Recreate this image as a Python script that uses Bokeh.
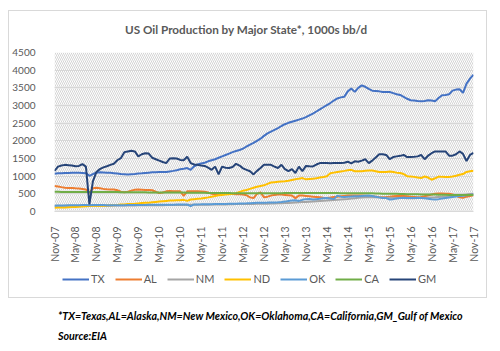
from math import pi
from bokeh.plotting import figure
from bokeh.layouts import column
from bokeh.models import Range1d, FixedTicker, BoxAnnotation, Div
from bokeh.embed import file_html
from bokeh.resources import INLINE

# ---------------- data (monthly, Nov-07 .. Nov-17, 1000s bb/d) ----------------
tick_labels = ["Nov-07", "May-08", "Nov-08", "May-09", "Nov-09", "May-10", "Nov-10",
               "May-11", "Nov-11", "May-12", "Nov-12", "May-13", "Nov-13", "May-14",
               "Nov-14", "May-15", "Nov-15", "May-16", "Nov-16", "May-17", "Nov-17"]

TX = [1070, 1080, 1085, 1090, 1090, 1095, 1100, 1095, 1090, 1085, 1010, 1060,
      1100, 1110, 1105, 1100, 1095, 1085, 1075, 1060, 1055, 1050, 1055, 1060,
      1075, 1080, 1090, 1100, 1110, 1110, 1115, 1115, 1120, 1135, 1150, 1170,
      1195, 1210, 1230, 1180, 1280, 1330, 1360, 1380, 1420, 1450, 1480, 1520,
      1560, 1600, 1640, 1680, 1710, 1740, 1780, 1840, 1890, 1940, 2000, 2060,
      2140, 2210, 2260, 2310, 2360, 2420, 2470, 2510, 2540, 2570, 2600, 2630,
      2670, 2720, 2770, 2830, 2890, 2950, 3010, 3070, 3140, 3200, 3230, 3250,
      3400, 3480, 3385, 3500, 3570, 3530, 3470, 3420, 3410, 3400, 3385, 3380,
      3380, 3350, 3320, 3300, 3245, 3190, 3150, 3140, 3125, 3120, 3130, 3150,
      3140, 3120, 3210, 3290, 3300, 3320, 3420, 3450, 3460, 3360, 3620, 3760,
      3870]

AL = [720, 710, 690, 675, 665, 665, 655, 650, 640, 625, 530, 660,
      670, 660, 640, 630, 625, 620, 600, 560, 545, 560, 590, 615,
      620, 615, 610, 605, 600, 560, 520, 540, 570, 580, 575, 570,
      570, 440, 570, 575, 570, 570, 565, 560, 540, 500, 490, 490,
      500, 510, 500, 495, 490, 485, 480, 460, 400, 380, 500, 540,
      400, 420, 450, 470, 480, 480, 470, 460, 450, 380, 450, 450,
      440, 430, 420, 410, 400, 390, 385, 395, 410, 420, 430, 440,
      450, 450, 455, 450, 450, 445, 440, 430, 420, 410, 405, 410,
      420, 430, 440, 445, 440, 430, 420, 410, 400, 410, 430, 450,
      480, 500, 510, 510, 505, 500, 480, 450, 400, 390, 420, 440,
      460]

NM = [160, 160, 158, 160, 162, 162, 163, 165, 165, 165, 160, 165,
      165, 166, 166, 165, 166, 168, 168, 170, 170, 172, 172, 173,
      174, 175, 175, 176, 178, 178, 180, 180, 182, 183, 184, 185,
      186, 187, 185, 188, 190, 190, 192, 193, 194, 195, 197, 198,
      200, 200, 205, 205, 210, 210, 210, 215, 215, 215, 220, 220,
      220, 222, 225, 228, 232, 236, 240, 244, 248, 255, 262, 268,
      272, 278, 284, 290, 296, 302, 308, 316, 324, 332, 340, 348,
      356, 366, 376, 386, 396, 406, 410, 405, 400, 395, 390, 390,
      390, 385, 385, 380, 380, 375, 375, 375, 380, 380, 385, 390,
      395, 400, 410, 415, 425, 430, 440, 450, 455, 470, 480, 495,
      500]

ND = [105, 110, 110, 115, 120, 125, 130, 135, 140, 150, 155, 160,
      160, 165, 165, 170, 175, 180, 185, 195, 200, 210, 215, 220,
      230, 240, 245, 250, 260, 270, 280, 290, 300, 310, 310, 315,
      320, 330, 300, 340, 350, 360, 370, 385, 400, 420, 440, 460,
      470, 480, 490, 500, 520, 550, 590, 610, 640, 670, 700, 720,
      740, 780, 820, 830, 840, 850, 855, 870, 890, 910, 930, 945,
      910, 920, 930, 940, 960, 975, 1000, 1080, 1100, 1120, 1135, 1150,
      1170, 1180, 1140, 1140, 1140, 1150, 1160, 1160, 1140, 1120, 1115, 1120,
      1130, 1120, 1100, 1090, 1060, 1000, 990, 980, 960, 945, 990, 960,
      900, 940, 990, 980, 975, 975, 990, 1010, 1040, 1060, 1120, 1140,
      1150]

OK = [165, 168, 170, 172, 175, 176, 178, 180, 182, 182, 180, 182,
      183, 183, 182, 180, 180, 178, 178, 180, 180, 182, 183, 185,
      185, 186, 187, 188, 188, 190, 190, 192, 192, 193, 194, 195,
      195, 196, 198, 150, 200, 200, 202, 205, 205, 208, 210, 212,
      212, 215, 218, 220, 222, 225, 228, 230, 235, 240, 245, 250,
      250, 252, 255, 258, 262, 270, 280, 300, 310, 320, 300, 330,
      350, 355, 340, 350, 360, 375, 385, 370, 350, 450, 420, 410,
      420, 425, 430, 435, 440, 445, 450, 440, 420, 400, 385, 380,
      340, 350, 370, 385, 390, 385, 380, 385, 390, 385, 375, 360,
      345, 340, 350, 365, 385, 395, 410, 425, 435, 445, 460, 470,
      480]

CA = [560, 560, 555, 555, 555, 555, 555, 555, 555, 555, 550, 555,
      555, 555, 550, 550, 550, 550, 550, 545, 545, 545, 545, 545,
      545, 545, 545, 540, 540, 540, 540, 540, 540, 535, 535, 535,
      535, 535, 530, 530, 530, 530, 530, 530, 525, 525, 525, 525,
      525, 525, 525, 520, 520, 520, 520, 520, 520, 520, 520, 520,
      520, 520, 520, 520, 520, 520, 525, 525, 525, 525, 525, 525,
      525, 525, 525, 525, 525, 525, 525, 525, 525, 525, 520, 520,
      520, 520, 520, 520, 520, 520, 515, 515, 510, 510, 505, 505,
      500, 500, 500, 495, 495, 490, 490, 485, 485, 480, 480, 480,
      480, 480, 475, 475, 475, 470, 470, 470, 470, 470, 470, 470,
      470]

GM = [1150, 1270, 1300, 1320, 1310, 1300, 1280, 1290, 1340, 1270, 200, 850,
      1120, 1200, 1250, 1280, 1320, 1350, 1450, 1510, 1680, 1700, 1720, 1700,
      1560, 1620, 1650, 1640, 1520, 1480, 1440, 1400, 1370, 1500, 1510, 1500,
      1460, 1450, 1550, 1370, 1330, 1320, 1300, 1290, 1240, 1180, 1270, 1050,
      1270, 1240, 1230, 1260, 1350, 1300, 1220, 1180, 1140, 1050, 1150, 1230,
      1320, 1320, 1320, 1270, 1230, 1320, 1200, 1140, 1200, 1090, 1270, 1140,
      1290, 1280, 1275, 1330, 1370, 1370, 1370, 1365, 1370, 1370, 1370, 1380,
      1410, 1360, 1420, 1410, 1440, 1480, 1370, 1440, 1530, 1620, 1620, 1600,
      1480, 1540, 1560, 1575, 1600, 1540, 1545, 1550, 1560, 1600, 1480, 1580,
      1650, 1700, 1700, 1700, 1700, 1580, 1580, 1620, 1700, 1630, 1430, 1600,
      1660]

series_names = ["TX", "AL", "NM", "ND", "OK", "CA", "GM"]
series_values = [TX, AL, NM, ND, OK, CA, GM]
series_colors = ["#4472C4", "#ED7D31", "#A5A5A5", "#FFC000", "#5B9BD5", "#70AD47", "#264478"]

y_ticks = list(range(0, 4501, 500))
months = list(range(len(TX)))
tick_pos = [6 * k for k in range(len(tick_labels))]
title_text = "US Oil Production by Major State*, 1000s bb/d"

FONT = "Lato"
GRAY = "#595959"
BORDER = "1px solid #d9d9d9"

# ---------------- title strip ----------------
title_div = Div(text=('<div style="padding:10px 0 0 116px; line-height:16px; white-space:nowrap;">'
                      + title_text + '</div>'),
                width=479, height=30, margin=(10, 0, 0, 8),
                styles={"border-top": BORDER, "border-left": BORDER, "border-right": BORDER,
                        "font-family": FONT, "font-size": "11.7px", "font-weight": "bold",
                        "color": GRAY, "background": "white"})

# ---------------- main chart ----------------
p = figure(width=479, height=225, output_backend="svg", toolbar_location=None,
           x_range=Range1d(months[0], months[-1]), y_range=Range1d(y_ticks[0], y_ticks[-1]),
           min_border_left=43, min_border_right=15, min_border_top=12, min_border_bottom=53,
           margin=(0, 0, 0, 8),
           styles={"border-left": BORDER, "border-right": BORDER})
p.outline_line_color = None
p.background_fill_color = "white"
p.border_fill_color = "white"

# hatched plot area
p.add_layout(BoxAnnotation(fill_color=None, line_color=None, hatch_pattern="\\",
                           hatch_color="#d4d4d4", hatch_scale=4, hatch_weight=1,
                           level="underlay"))

p.xgrid.grid_line_color = None
p.ygrid.grid_line_color = "#d9d9d9"
p.ygrid.ticker = FixedTicker(ticks=y_ticks)

p.yaxis.ticker = FixedTicker(ticks=y_ticks)
p.yaxis.axis_line_color = None
p.yaxis.major_tick_line_color = None
p.yaxis.minor_tick_line_color = None
p.yaxis.major_label_standoff = 13
p.yaxis.major_label_text_font = FONT
p.yaxis.major_label_text_font_size = "10px"
p.yaxis.major_label_text_color = GRAY

p.xaxis.ticker = FixedTicker(ticks=tick_pos)
p.xaxis.major_label_overrides = {pos: lab for pos, lab in zip(tick_pos, tick_labels)}
p.xaxis.major_label_orientation = pi / 2
p.xaxis.axis_line_color = "#d9d9d9"
p.xaxis.major_tick_line_color = None
p.xaxis.minor_tick_line_color = None
p.xaxis.major_label_standoff = 9
p.xaxis.major_label_text_font = FONT
p.xaxis.major_label_text_font_size = "10.5px"
p.xaxis.major_label_text_color = GRAY

for name, vals, col in zip(series_names, series_values, series_colors):
    p.line(months, vals, line_color=col, line_width=2)

# ---------------- legend strip (inside the chart border) ----------------
# same series, drawn in a strip whose ranges hide them: only the legend shows
pl = figure(width=479, height=33, output_backend="svg", toolbar_location=None,
            x_range=Range1d(0, 1), y_range=Range1d(0, 1),
            x_axis_location=None, y_axis_location=None,
            min_border_left=0, min_border_right=0, min_border_top=0, min_border_bottom=0,
            margin=(0, 0, 0, 8),
            styles={"border-bottom": BORDER, "border-left": BORDER, "border-right": BORDER})
pl.grid.visible = False
pl.outline_line_color = None
pl.background_fill_color = "white"
pl.border_fill_color = "white"
for name, vals, col in zip(series_names, series_values, series_colors):
    pl.line(months, vals, line_color=col, line_width=2, legend_label=name)
leg = pl.legend[0]
leg.orientation = "horizontal"
leg.location = (8, 13)
leg.background_fill_alpha = 0
leg.border_line_color = None
leg.glyph_width = 27
leg.glyph_height = 12
leg.label_height = 12
leg.label_width = 0
leg.label_standoff = 2
leg.spacing = 10
leg.padding = 0
leg.margin = 0
leg.label_text_font = FONT
leg.label_text_font_size = "11px"
leg.label_text_color = GRAY

# ---------------- footnotes ----------------
notes = Div(text=("*TX=Texas,AL=Alaska,NM=New Mexico,OK=Oklahoma,CA=California,GM_Gulf of Mexico"
                  "<br>Source:EIA"),
            width=440, margin=(8, 0, 0, 58),
            styles={"font-family": FONT, "font-size": "10.7px", "font-weight": "bold",
                    "font-style": "italic", "color": "black", "line-height": "20px"})

layout = column(title_div, p, pl, notes, spacing=0)

open("out.html", "w").write(file_html(layout, INLINE))
